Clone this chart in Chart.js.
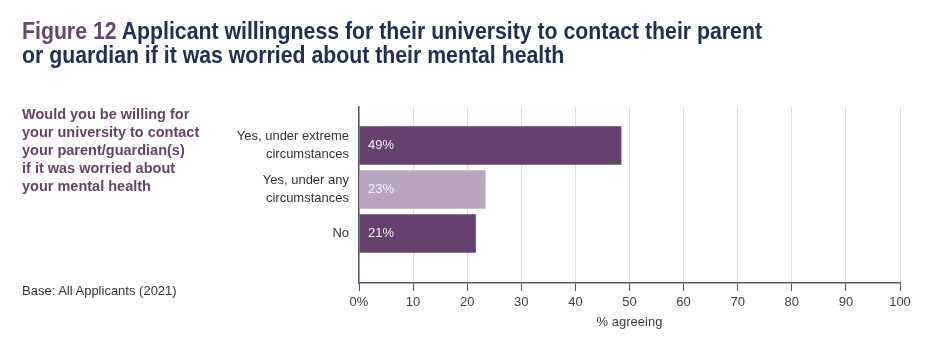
<!DOCTYPE html>
<html>
<head>
<meta charset="utf-8">
<script src="https://cdn.jsdelivr.net/npm/chart.js@4/dist/chart.umd.min.js"></script>
<style>
  html, body { margin: 0; padding: 0; background: #fff; }
  #wrap { position: relative; width: 939px; height: 350px; overflow: hidden; }
  #chart { position: absolute; left: 0; top: 0; }
  .title {
    position: absolute; left: 22px; top: 20px;
    font-family: 'Liberation Sans', Arial, sans-serif;
    font-weight: bold; font-size: 23px; line-height: 23.5px; color: #222f55;
    white-space: nowrap; transform-origin: 0 0;
  }
  .title .fig { color: #6b4470; }
  .question {
    position: absolute; left: 22px; top: 105px;
    font-family: 'Liberation Sans', Arial, sans-serif;
    font-weight: bold; font-size: 14.5px; line-height: 18px; color: #664466;
  }
  .base {
    position: absolute; left: 22px; top: 283px;
    font-family: 'Liberation Sans', Arial, sans-serif;
    font-size: 13px; color: #333;
  }
</style>
</head>
<body>
<div id="wrap">
  <canvas id="chart" width="939" height="350"></canvas>
  <div class="title" id="title"><span id="line1"><span class="fig">Figure 12</span> Applicant willingness for their university to contact their parent</span><br>or guardian if it was worried about their mental health</div>
  <div class="question">Would you be willing for<br>your university to contact<br>your parent/guardian(s)<br>if it was worried about<br>your mental health</div>
  <div class="base">Base: All Applicants (2021)</div>
</div>
<script>
// Donnees
var categories = [
    ['Yes, under extreme', 'circumstances'],
    ['Yes, under any', 'circumstances'],
    ['No']
];
var values = [48.5, 23.4, 21.6];
var valueLabels = ['49%', '23%', '21%'];
var barColors = ['#66416d', '#b9a5bd', '#66416d'];
var xTicks = [0, 10, 20, 30, 40, 50, 60, 70, 80, 90, 100];

var points = values.map(function (v, i) { return { x: v, y: i }; });

// Titre condense (police etroite dans l'original)
var line1 = document.getElementById('line1');
var k = 740 / line1.getBoundingClientRect().width;
document.getElementById('title').style.transform = 'scaleX(' + k + ')';

// Labels dans les barres
var barLabels = {
    id: 'barLabels',
    afterDatasetsDraw: function (chart) {
        var ctx = chart.ctx;
        var meta = chart.getDatasetMeta(0);
        ctx.save();
        ctx.font = '13px "Liberation Sans", Arial, sans-serif';
        ctx.fillStyle = 'rgba(255,255,255,0.92)';
        ctx.textAlign = 'left';
        ctx.textBaseline = 'middle';
        meta.data.forEach(function (bar, i) {
            ctx.fillText(valueLabels[i], chart.chartArea.left + 9, bar.y);
        });
        ctx.restore();
    }
};

var ctx = document.getElementById('chart');
var myChart = new Chart(ctx, {
    type: 'bar',
    data: {
        datasets: [{
            data: points,
            backgroundColor: barColors,
            borderWidth: 0,
            barPercentage: 0.88,
            categoryPercentage: 1
        }]
    },
    options: {
        indexAxis: 'y',
        responsive: false,
        animation: false,
        layout: {
            padding: { top: 107, right: 39, bottom: 20, left: 0 }
        },
        scales: {
            x: {
                type: 'linear',
                min: 0,
                max: 100,
                z: 1,
                afterBuildTicks: function (scale) {
                    scale.ticks = xTicks.map(function (v) { return { value: v }; });
                },
                afterFit: function (scale) { scale.height = 47; },
                grid: {
                    color: 'rgba(200,200,206,0.6)',
                    lineWidth: 1,
                    tickColor: '#555a66',
                    tickLength: 8,
                    drawTicks: true
                },
                border: { display: true, color: '#555a66', width: 1.5 },
                ticks: {
                    color: '#404040',
                    padding: 4,
                    font: { family: '"Liberation Sans", Arial, sans-serif', size: 13 },
                    callback: function (v) { return v === 0 ? '0%' : v; }
                },
                title: {
                    display: true,
                    text: '% agreeing',
                    color: '#404040',
                    padding: 0,
                    font: { family: '"Liberation Sans", Arial, sans-serif', size: 13 }
                }
            },
            y: {
                type: 'linear',
                reverse: true,
                offset: false,
                min: -0.875,
                max: 3.125,
                afterBuildTicks: function (scale) {
                    scale.ticks = categories.map(function (c, i) { return { value: i }; });
                },
                afterFit: function (scale) { scale.width = 359; },
                grid: { display: false, drawTicks: false, offset: false },
                border: { display: true, color: '#555a66', width: 1.5 },
                ticks: {
                    color: '#333',
                    padding: 10,
                    font: { family: '"Liberation Sans", Arial, sans-serif', size: 13, lineHeight: 1.4 },
                    callback: function (v) { return categories[v]; }
                }
            }
        },
        plugins: {
            legend: { display: false },
            tooltip: { enabled: false }
        }
    },
    plugins: [barLabels]
});
</script>
</body>
</html>
